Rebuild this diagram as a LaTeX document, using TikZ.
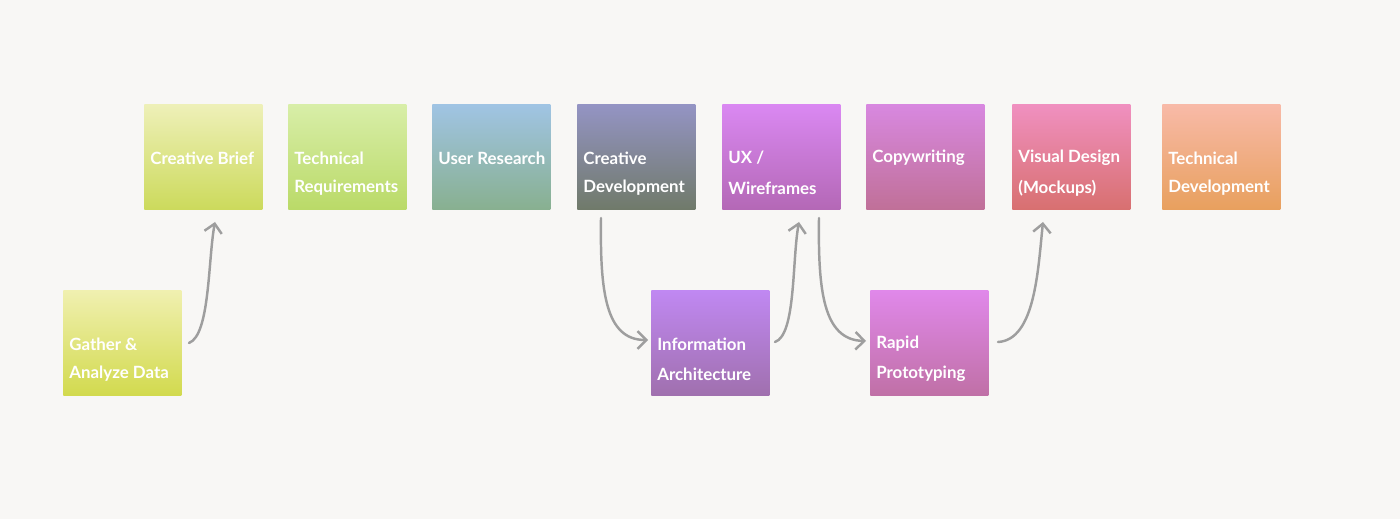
\documentclass[tikz,border=0pt]{standalone}
\usepackage{fontspec}
\setmainfont{Lato}
\usetikzlibrary{arrows.meta}
\begin{document}
\begin{tikzpicture}[x=0.02cm,y=-0.02cm,
  card/.style={minimum width=2.36cm,minimum height=2.1cm,anchor=north west,inner sep=0pt},
  lbl/.style={anchor=west,text=white,font=\bfseries\fontsize{9.6}{12}\selectfont,inner sep=0pt},
  flow/.style={draw=black!38,line width=1.4pt,line cap=round,-{Straight Barb[length=5pt,width=10pt,line width=1.4pt]}}]
\fill[fill={rgb,255:red,248;green,247;blue,245}] (0,0) rectangle (1400,519);
\newcommand{\card}[7]{%
  \definecolor{tc#1}{HTML}{#4}\definecolor{bc#1}{HTML}{#5}%
  \node[card,top color=tc#1,bottom color=bc#1] (#1) at (#2,#3) {};
  \node[lbl] (#1a) at (#2+6,#3+54) {#6};
  \node[lbl] (#1b) at (#2+6,#3+84) {#7};}
\card{brief}{144}{104}{EEF0B8}{CCDA5C}{Creative Brief}{}
\card{tech}{288}{104}{D8EEA8}{BADA68}{Technical}{Requirements}
\card{user}{432}{104}{A0C4E4}{88B090}{User Research}{}
\card{cdev}{577}{104}{9494C4}{707A6A}{Creative}{Development}
\card{ux}{722}{104}{DA88F2}{B468B6}{UX /}{Wireframes}
\card{copy}{866}{104}{D888E0}{C07098}{Copywriting}{}
\card{vis}{1012}{104}{F090C0}{D87070}{Visual Design}{(Mockups)}
\card{tdev}{1162}{104}{F8BAA8}{E8A05E}{Technical}{Development}
\card{gather}{63}{290}{F0F0B0}{D2DA4E}{Gather \&}{Analyze Data}
\card{info}{651}{290}{C088F2}{A070AE}{Information}{Architecture}
\card{rapid}{870}{290}{E088EA}{C070A6}{Rapid}{Prototyping}
\coordinate (g1) at (189,343); \coordinate (g2) at (215,222);
\coordinate (c1) at (601,218); \coordinate (c2) at (648,340);
\coordinate (i1) at (775,342); \coordinate (i2) at (799,222);
\coordinate (u1) at (819,218); \coordinate (u2) at (866,341);
\coordinate (r1) at (998,342); \coordinate (r2) at (1043,222);
\draw[flow] (g1) .. controls (210,335) and (208,260) .. (g2);
\draw[flow] (c1) .. controls (600,290) and (605,340) .. (c2);
\draw[flow] (i1) .. controls (796,335) and (792,260) .. (i2);
\draw[flow] (u1) .. controls (818,290) and (823,340) .. (u2);
\draw[flow] (r1) .. controls (1035,340) and (1038,270) .. (r2);
\end{tikzpicture}
\end{document}
